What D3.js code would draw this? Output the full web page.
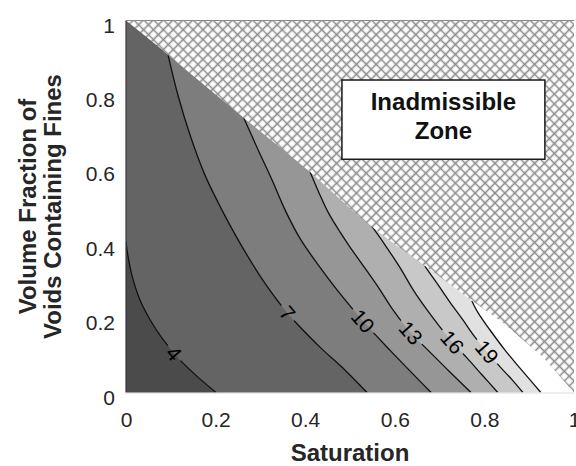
<!DOCTYPE html>
<html>
<head>
<meta charset="utf-8">
<script src="https://cdn.jsdelivr.net/npm/d3@7"></script>
<style>
  html, body { margin: 0; padding: 0; background: #fff; }
  svg text { font-family: "Liberation Sans", Arial, Helvetica, sans-serif; }
</style>
</head>
<body>
<script>
// ---------- data ----------
const xTicks = [0, 0.2, 0.4, 0.6, 0.8, 1];
const yTicks = [0, 0.2, 0.4, 0.6, 0.8, 1];
const tickLabels = ["0", "0.2", "0.4", "0.6", "0.8", "1"];

const levels = [4, 7, 10, 13, 16, 19, 22];
const labeledLevels = [4, 7, 10, 13, 16, 19];

// contour lines: [saturation, volume fraction]
const contour4  = [[0,0.405],[0.004,0.37],[0.013,0.316],[0.031,0.249],[0.054,0.195],[0.080,0.147],[0.116,0.093],[0.158,0.044],[0.201,0]];
const contour7  = [[0.094,0.907],[0.116,0.799],[0.143,0.692],[0.176,0.585],[0.214,0.491],[0.261,0.388],[0.310,0.294],[0.362,0.211],[0.433,0.122],[0.489,0.060],[0.538,0]];
const contour10 = [[0.263,0.738],[0.295,0.652],[0.326,0.571],[0.355,0.491],[0.388,0.415],[0.429,0.343],[0.471,0.276],[0.529,0.192],[0.589,0.114],[0.681,0]];
const contour13 = [[0.411,0.593],[0.433,0.531],[0.451,0.485],[0.478,0.431],[0.5,0.391],[0.533,0.335],[0.567,0.276],[0.596,0.222],[0.636,0.160],[0.674,0.114],[0.723,0.055],[0.770,0]];
const contour16 = [[0.545,0.453],[0.578,0.397],[0.612,0.335],[0.641,0.276],[0.672,0.222],[0.701,0.176],[0.728,0.136],[0.761,0.093],[0.795,0.047],[0.830,0]];
const contour19 = [[0.667,0.340],[0.694,0.294],[0.723,0.243],[0.752,0.195],[0.779,0.149],[0.806,0.109],[0.835,0.069],[0.862,0.034],[0.886,0]];
const contour22 = [[0.772,0.246],[0.786,0.214],[0.8125,0.168],[0.846,0.114],[0.879,0.066],[0.926,0]];
const contours = [contour4, contour7, contour10, contour13, contour16, contour19, contour22];

// label anchor positions along each labelled line
const labelAnchors = [[0.102,0.100],[0.360,0.212],[0.529,0.192],[0.636,0.160],[0.728,0.136],[0.806,0.109]];

// inadmissible-zone edge
const boundary = [[0,1],[0.076,0.926],[0.094,0.907],[0.261,0.740],[0.411,0.593],[0.529,0.464],[0.596,0.402],[0.672,0.337],[0.761,0.257],[0.842,0.187],[0.931,0.095],[1,0]];

// fill colour of the band just below each level, plus the top band
const bandColors = ["#4b4b4b", "#646464", "#7d7d7d", "#969696", "#afafaf", "#c8c8c8", "#e1e1e1"];
const topBandColor = "#ffffff";

// ---------- chart ----------
const W = 576, H = 466;
const svg = d3.select("body").append("svg").attr("width", W).attr("height", H);
const x = d3.scaleLinear().domain([0, 1]).range([126, 574]);
const y = d3.scaleLinear().domain([0, 1]).range([392.5, 20.5]);

const defs = svg.append("defs");
defs.append("clipPath").attr("id", "plotclip")
  .append("rect").attr("x", x(0)).attr("y", y(1)).attr("width", x(1) - x(0)).attr("height", y(0) - y(1));

const hs = 7;
const pat = defs.append("pattern").attr("id", "hatch")
  .attr("patternUnits", "userSpaceOnUse").attr("width", hs).attr("height", hs)
  .attr("patternTransform", "rotate(45)");
pat.append("rect").attr("width", hs).attr("height", hs).attr("fill", "#fff");
pat.append("path").attr("d", `M0,${hs/2}H${hs}M${hs/2},0V${hs}`).attr("stroke", "#8c8c8c").attr("stroke-width", 1.6);

const mask = defs.append("mask").attr("id", "gapmask").attr("maskUnits", "userSpaceOnUse")
  .attr("x", 0).attr("y", 0).attr("width", W).attr("height", H);
mask.append("rect").attr("width", W).attr("height", H).attr("fill", "#fff");

const lineGen = d3.line().x(d => x(d[0])).y(d => y(d[1])).curve(d3.curveCatmullRom.alpha(0.5));

function bandPath(pts) {
  const first = pts[0], last = pts[pts.length - 1];
  return lineGen(pts) +
    `L${x(last[0])},${y(-0.1)}L${x(-0.1)},${y(-0.1)}L${x(-0.1)},${y(1.2)}L${x(first[0])},${y(1.2)}Z`;
}

const plot = svg.append("g").attr("clip-path", "url(#plotclip)");

// top band background
plot.append("rect").attr("x", x(0)).attr("y", y(1)).attr("width", x(1) - x(0)).attr("height", y(0) - y(1))
  .attr("fill", topBandColor);

// filled bands, highest level first
for (let i = levels.length - 1; i >= 0; i--) {
  plot.append("path").attr("d", bandPath(contours[i])).attr("fill", bandColors[i]);
}

// contour lines
const lineG = plot.append("g").attr("mask", "url(#gapmask)");
const linePaths = contours.map(c =>
  lineG.append("path").attr("d", lineGen(c)).attr("fill", "none")
    .attr("stroke", "#111").attr("stroke-width", 1.3).node());

// hatched inadmissible zone
const hatchPts = boundary.concat([[1.01, 0], [1.01, 1.01], [0, 1.01]]);
plot.append("path")
  .attr("d", d3.line().x(d => x(d[0])).y(d => y(d[1]))(hatchPts) + "Z")
  .attr("fill", "url(#hatch)");

// contour labels
const labG = svg.append("g");
labeledLevels.forEach((lev, i) => {
  const p = linePaths[i];
  const total = p.getTotalLength();
  const ax = x(labelAnchors[i][0]), ay = y(labelAnchors[i][1]);
  let best = 0, bd = Infinity;
  for (let l = 0; l <= total; l += 0.5) {
    const q = p.getPointAtLength(l);
    const d = (q.x - ax) ** 2 + (q.y - ay) ** 2;
    if (d < bd) { bd = d; best = l; }
  }
  const c = p.getPointAtLength(best);
  const a = p.getPointAtLength(Math.max(0, best - 4));
  const b = p.getPointAtLength(Math.min(total, best + 4));
  let ang = Math.atan2(b.y - a.y, b.x - a.x) * 180 / Math.PI;
  if (ang > 90) ang -= 180;
  if (ang < -90) ang += 180;
  const t = labG.append("text")
    .attr("transform", `translate(${c.x},${c.y}) rotate(${ang})`)
    .attr("text-anchor", "middle").attr("dominant-baseline", "central")
    .attr("font-size", 21).attr("fill", "#000").text(String(lev));
  const tw = t.node().getComputedTextLength();
  mask.append("rect")
    .attr("x", -tw / 2 - 4).attr("y", -10).attr("width", tw + 8).attr("height", 20)
    .attr("transform", `translate(${c.x},${c.y}) rotate(${ang})`)
    .attr("fill", "#000");
});

// frame edges
svg.append("line").attr("x1", x(0)).attr("x2", x(0)).attr("y1", y(0)).attr("y2", y(1))
  .attr("stroke", "#3a3a3a").attr("stroke-width", 1.2);
svg.append("line").attr("x1", x(0)).attr("x2", x(1)).attr("y1", y(1)).attr("y2", y(1))
  .attr("stroke", "#8a8a8a").attr("stroke-width", 1.2);
svg.append("line").attr("x1", x(0)).attr("x2", x(1)).attr("y1", y(0) + 0.5).attr("y2", y(0) + 0.5)
  .attr("stroke", "#dcdcdc").attr("stroke-width", 1);

// axes (tick labels)
const xAxis = svg.append("g").attr("transform", `translate(0,${y(0)})`)
  .call(d3.axisBottom(x).tickValues(xTicks).tickFormat((d, i) => tickLabels[i]).tickSize(0).tickPadding(20));
const yAxis = svg.append("g").attr("transform", `translate(${x(0)},0)`)
  .call(d3.axisLeft(y).tickValues(yTicks).tickFormat((d, i) => tickLabels[i]).tickSize(0).tickPadding(11));
[xAxis, yAxis].forEach(g => {
  g.select(".domain").remove();
  g.selectAll("text").attr("font-size", 21).attr("fill", "#262626")
    .attr("font-family", "'Liberation Sans', Arial, Helvetica, sans-serif");
});
yAxis.selectAll("text").attr("dy", "0.55em");

// axis titles
svg.append("text").attr("x", (x(0) + x(1)) / 2).attr("y", 461)
  .attr("text-anchor", "middle").attr("font-size", 24).attr("font-weight", "bold").attr("fill", "#262626")
  .text("Saturation");
const yMid = (y(0) + y(1)) / 2;
svg.append("text").attr("transform", `translate(36,${yMid}) rotate(-90)`)
  .attr("text-anchor", "middle").attr("font-size", 24).attr("font-weight", "bold").attr("fill", "#262626")
  .text("Volume Fraction of");
svg.append("text").attr("transform", `translate(61,${yMid}) rotate(-90)`)
  .attr("text-anchor", "middle").attr("font-size", 24).attr("font-weight", "bold").attr("fill", "#262626")
  .text("Voids Containing Fines");

// annotation box
const box = svg.append("g");
box.append("rect").attr("x", x(0.482)).attr("y", y(0.840))
  .attr("width", x(0.935) - x(0.482)).attr("height", y(0.627) - y(0.840))
  .attr("fill", "#fff").attr("stroke", "#1a1a1a").attr("stroke-width", 1.5);
const bx = (x(0.482) + x(0.935)) / 2;
box.append("text").attr("x", bx).attr("y", 110).attr("text-anchor", "middle")
  .attr("font-size", 24).attr("font-weight", "bold").attr("fill", "#111").text("Inadmissible");
box.append("text").attr("x", bx).attr("y", 139).attr("text-anchor", "middle")
  .attr("font-size", 24).attr("font-weight", "bold").attr("fill", "#111").text("Zone");
</script>
</body>
</html>
